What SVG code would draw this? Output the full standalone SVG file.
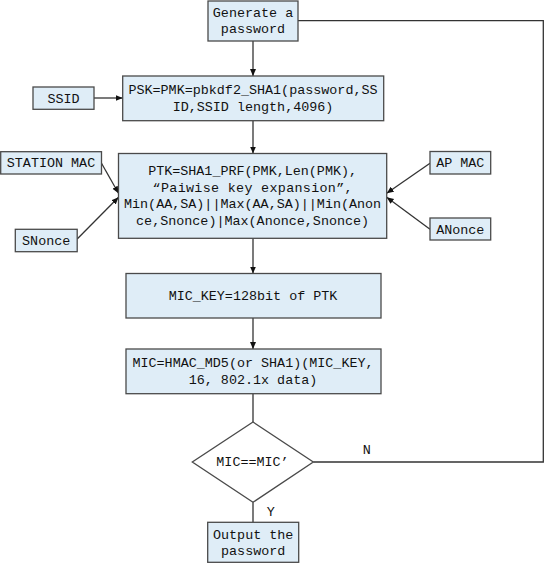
<svg xmlns="http://www.w3.org/2000/svg" width="545" height="563" viewBox="0 0 545 563">
<style>
.box{fill:#dfedf7;stroke:#4a4a4a;stroke-width:1.3}
.t{font-family:"Liberation Mono","Courier New",monospace;font-size:13.4px;fill:#111;text-anchor:middle}
.c{fill:none;stroke:#333;stroke-width:1.3}
.a{marker-end:url(#ah)}
</style>
<defs>
<marker id="ah" markerUnits="userSpaceOnUse" markerWidth="8" markerHeight="8" refX="7" refY="3" orient="auto">
<path d="M0,0 L7,3 L0,6 z" fill="#111"/>
</marker>
</defs>
<rect width="545" height="563" fill="#fff"/>
<g id="connectors">
<line class="c a" x1="253" y1="41" x2="253" y2="76"/>
<line class="c a" x1="94" y1="98" x2="122.7" y2="98"/>
<line class="c a" x1="253" y1="120.7" x2="253" y2="153.5"/>
<line class="c a" x1="101.5" y1="163.3" x2="118.5" y2="193.3"/>
<line class="c a" x1="77.2" y1="239" x2="118.5" y2="197.3"/>
<line class="c a" x1="430" y1="163.3" x2="386.7" y2="193.3"/>
<line class="c a" x1="430" y1="229.3" x2="386.7" y2="197.3"/>
<line class="c a" x1="253" y1="238.3" x2="253" y2="273.5"/>
<line class="c a" x1="253" y1="318" x2="253" y2="349"/>
<line class="c" x1="253" y1="393.7" x2="253" y2="422"/>
<line class="c" x1="253" y1="502.3" x2="253" y2="522.3"/>
<polyline class="c" points="313.3,462 543.3,462 543.3,20.7 298,20.7"/>
<text class="t" x="366.7" y="454">N</text>
<text class="t" x="270.7" y="516">Y</text>
</g>
<g id="generate">
<rect class="box" x="208" y="1" width="90" height="40"/>
<text class="t" x="253" y="17">Generate a</text>
<text class="t" x="253" y="33">password</text>
</g>
<g id="ssid">
<rect class="box" x="33" y="87" width="61" height="22.3"/>
<text class="t" x="63.5" y="102.8">SSID</text>
</g>
<g id="psk">
<rect class="box" x="122.7" y="76" width="261" height="44.7"/>
<text class="t" x="253" y="94">PSK=PMK=pbkdf2_SHA1(password,SS</text>
<text class="t" x="253" y="110.7">ID,SSID length,4096)</text>
</g>
<g id="station-mac">
<rect class="box" x="0.7" y="151.7" width="100.8" height="22.3"/>
<text class="t" x="51" y="167">STATION MAC</text>
</g>
<g id="snonce">
<rect class="box" x="15.3" y="229.3" width="61.9" height="22.4"/>
<text class="t" x="46.2" y="244.7">SNonce</text>
</g>
<g id="ptk">
<rect class="box" x="118.5" y="153.5" width="268.2" height="84.8"/>
<text class="t" x="252.6" y="174.7">PTK=SHA1_PRF(PMK,Len(PMK),</text>
<text class="t" x="252.6" y="191.7" textLength="200">“Paiwise key expansion”,</text>
<text class="t" x="252.6" y="208.4">Min(AA,SA)||Max(AA,SA)||Min(Anon</text>
<text class="t" x="252.6" y="225">ce,Snonce)|Max(Anonce,Snonce)</text>
</g>
<g id="ap-mac">
<rect class="box" x="430" y="151.5" width="60.7" height="22.5"/>
<text class="t" x="460.3" y="167">AP MAC</text>
</g>
<g id="anonce">
<rect class="box" x="430" y="218" width="60.7" height="22"/>
<text class="t" x="460.3" y="233.7">ANonce</text>
</g>
<g id="mic-key">
<rect class="box" x="126" y="273.5" width="255" height="44.5"/>
<text class="t" x="253" y="300.4">MIC_KEY=128bit of PTK</text>
</g>
<g id="mic">
<rect class="box" x="126" y="349" width="255" height="44.7"/>
<text class="t" x="253" y="367">MIC=HMAC_MD5(or SHA1)(MIC_KEY,</text>
<text class="t" x="253" y="383.7">16, 802.1x data)</text>
</g>
<g id="decision">
<polygon points="253,422 313.3,462 253,502.3 192.3,462" fill="#fff" stroke="#4a4a4a" stroke-width="1.3"/>
<text class="t" x="252.5" y="466.4">MIC==MIC’</text>
</g>
<g id="output">
<rect class="box" x="207.7" y="522.3" width="91" height="40"/>
<text class="t" x="253.2" y="539.2">Output the</text>
<text class="t" x="253.2" y="554.7">password</text>
</g>
</svg>
